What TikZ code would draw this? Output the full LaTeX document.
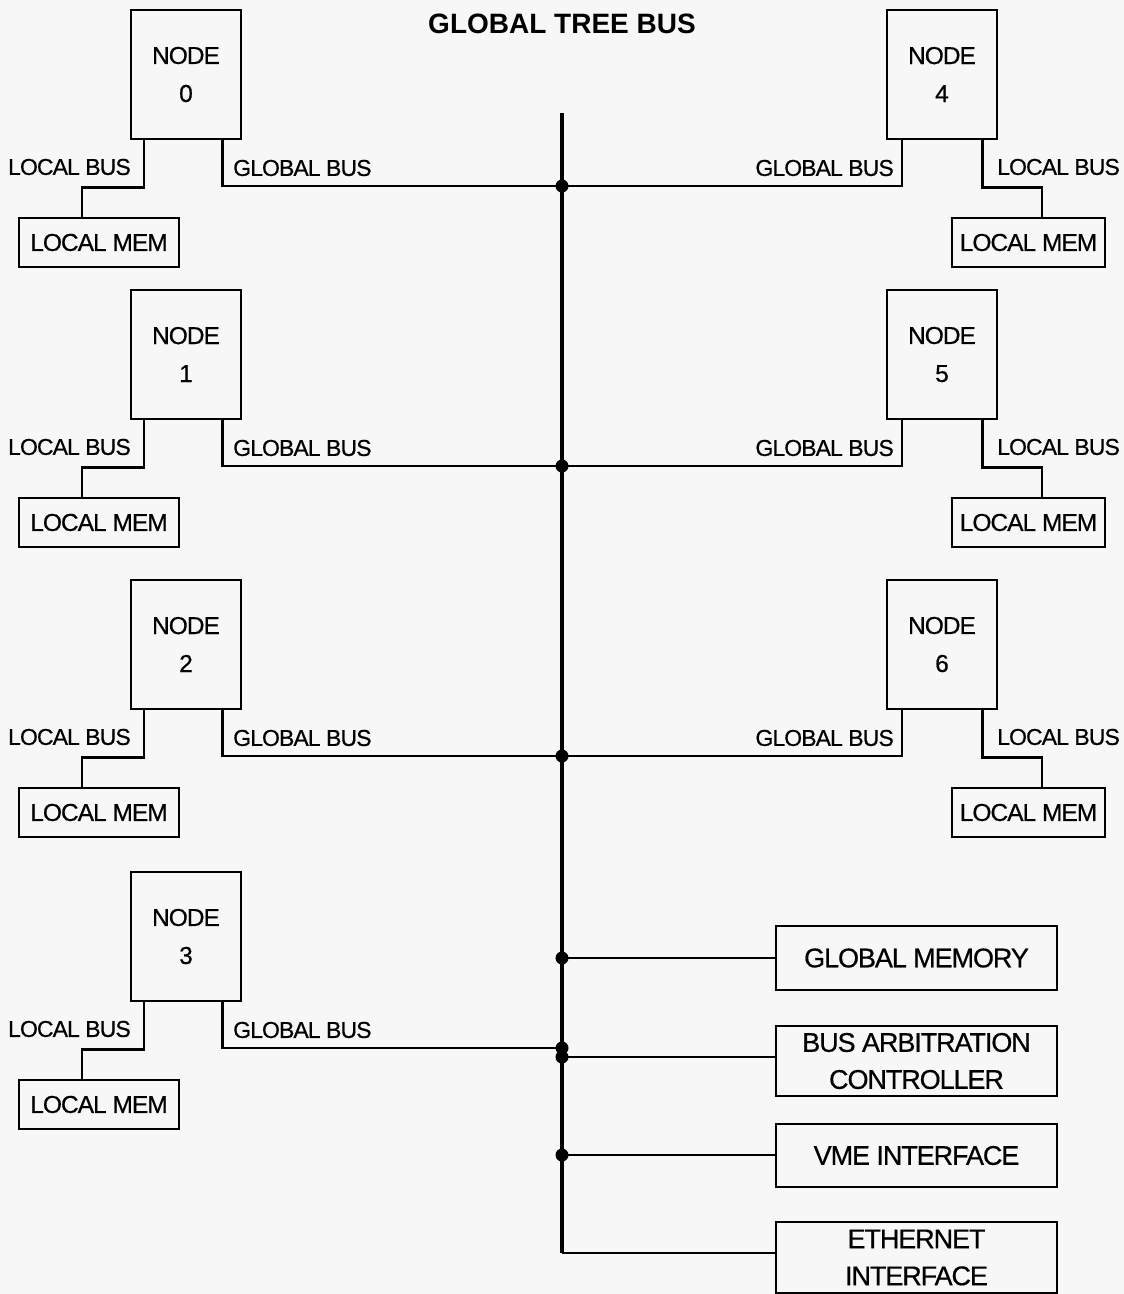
\documentclass[tikz,border=0pt]{standalone}
\usepackage{fontspec}
\setmainfont{Liberation Sans}
\newfontfamily\tight[LetterSpace=-4,FakeBold=0.6]{Liberation Sans}
\usetikzlibrary{calc}
\begin{document}
\begin{tikzpicture}[x=1pt,y=-1pt,
  box/.style={draw, line width=2.6pt, inner sep=0pt, align=center, font=\tight\fontsize{24.5}{38}\selectfont},
  big/.style={draw, line width=2.6pt, inner sep=0pt, align=center, minimum width=281pt, font=\tight\fontsize{27}{37}\selectfont},
  lab/.style={inner sep=0pt, font=\tight\fontsize{23}{26}\selectfont},
  wire/.style={line width=2.4pt},
  bus/.style={line width=4pt},
  dot/.style={circle, fill, inner sep=0pt, minimum size=13pt}]
\fill[white!97!black] (0,0) rectangle (1124,1294);
\useasboundingbox (0,0) rectangle (1124,1294);

\node[font=\bfseries\fontsize{28}{30}\selectfont] (title) at (562,24) {GLOBAL TREE BUS};

\coordinate (btop) at (562,113);
\coordinate (bbot) at (562,1253);
\coordinate (k1) at (562,958);
\coordinate (k2) at (562,1057);
\coordinate (k3) at (562,1155);

% left nodes
\foreach \i/\dy in {0/0,1/280,2/570,3/862}{
  \node[box, minimum width=110pt, minimum height=129pt] (n\i) at (186,74.5+\dy) {NODE\\\i};
  \node[box, minimum width=160pt, minimum height=49pt] (m\i) at (99,242.5+\dy) {LOCAL MEM};
  \node[lab, anchor=east] (lb\i) at (131,167+\dy) {LOCAL BUS};
  \node[lab, anchor=west] (gb\i) at (233,168+\dy) {GLOBAL BUS};
  \coordinate (j\i) at (562,186+\dy);
  \draw[wire] ([xshift=14pt]n\i.south west) -- ++(0,47) -| ([xshift=64pt]m\i.north west);
  \draw[wire] ([xshift=-20pt]n\i.south east) |- (j\i);
}

% right nodes
\foreach \i/\dy in {4/0,5/280,6/570}{
  \node[box, minimum width=110pt, minimum height=129pt] (n\i) at (942,74.5+\dy) {NODE\\\i};
  \node[box, minimum width=153pt, minimum height=49pt] (m\i) at (1028.5,242.5+\dy) {LOCAL MEM};
  \node[lab, anchor=east] (gb\i) at (894,168+\dy) {GLOBAL BUS};
  \node[lab, anchor=west] (lb\i) at (997,167+\dy) {LOCAL BUS};
  \coordinate (j\i) at (562,186+\dy);
  \draw[wire] ([xshift=16pt]n\i.south west) |- (j\i);
  \draw[wire] ([xshift=-16pt]n\i.south east) -- ++(0,47) -| ([xshift=91pt]m\i.north west);
}

% bottom right units
\node[big, minimum height=64pt] (gm) at (916.5,958) {GLOBAL MEMORY};
\node[big, minimum height=70pt] (bac) at (916.5,1061) {BUS ARBITRATION\\CONTROLLER};
\node[big, minimum height=63pt] (vme) at (916.5,1155.5) {VME INTERFACE};
\node[big, minimum height=71pt] (eth) at (916.5,1257.5) {ETHERNET\\INTERFACE};

\draw[wire] (k1) -- (k1 -| gm.west);
\draw[wire] (k2) -- (k2 -| bac.west);
\draw[wire] (k3) -- (k3 -| vme.west);
\draw[wire] (bbot) -- (bbot -| eth.west);

% the tree bus
\draw[bus] (btop) -- (bbot);

% junction dots
\foreach \c in {j0,j1,j2,j3,k1,k2,k3}{
  \node[dot] (d\c) at (\c) {};
}
\end{tikzpicture}
\end{document}
